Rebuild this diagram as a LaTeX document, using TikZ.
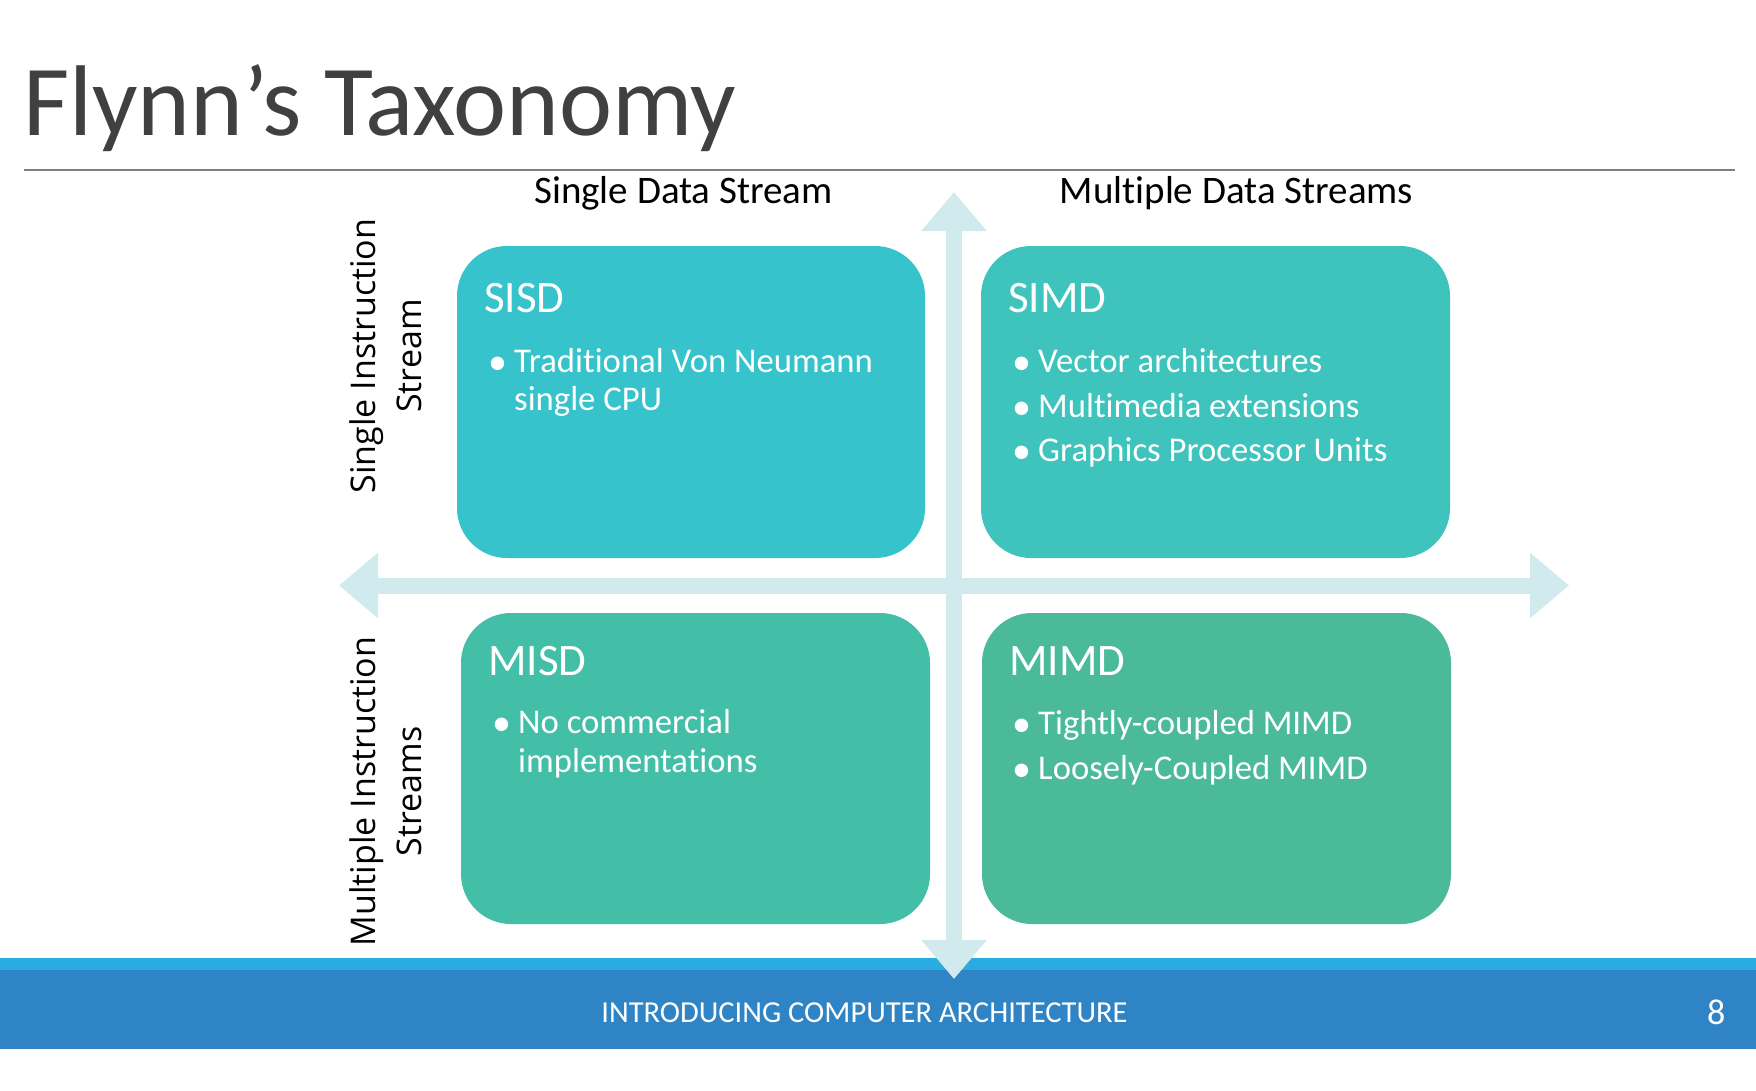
\documentclass[tikz,border=0pt]{standalone}
\usepackage{fontspec}
\setmainfont{Carlito}[Ligatures=NoCommon]
\newfontfamily\opensans{Open Sans}
\usetikzlibrary{arrows.meta}
\definecolor{sisdc}{HTML}{37C3CB}
\definecolor{simdc}{HTML}{3EC4BC}
\definecolor{misdc}{HTML}{43BFA8}
\definecolor{mimdc}{HTML}{4ABA98}
\definecolor{axisc}{HTML}{D1EAED}
\definecolor{footlight}{HTML}{2AACE2}
\definecolor{footdark}{HTML}{2E84C4}
\definecolor{titlec}{HTML}{404040}
\definecolor{rulec}{HTML}{7F7F7F}
\begin{document}
\begin{tikzpicture}[x=1pt,y=-1pt,
  quad/.style={rectangle, rounded corners=50pt, inner sep=0pt, draw=none,
    minimum width=469pt, minimum height=312pt},
  hdr/.style={inner sep=0pt, anchor=base, text=black, font=\fontsize{39}{47}\selectfont},
  qtitle/.style={inner sep=0pt, anchor=base west, text=white, font=\fontsize{45}{54}\selectfont},
  qtext/.style={inner sep=0pt, anchor=base west, text=white, font=\fontsize{34.7}{41}\selectfont},
  qbul/.style={inner sep=0pt, anchor=base west, text=white, font=\fontsize{38}{41}\selectfont},
  side/.style={inner sep=0pt, rotate=90, align=center, text=black, font=\opensans\fontsize{34}{46}\selectfont},
  axis/.style={draw=axisc, line width=16pt, line cap=butt,
    {Triangle[width=63pt,length=39pt]}-{Triangle[width=63pt,length=39pt]}}
]
\useasboundingbox (0,0) rectangle (1756,1090);
\fill[white] (0,0) rectangle (1756,1090);

% title
\node[inner sep=0pt, anchor=base west, text=titlec, font=\fontsize{100.5}{120}\selectfont] (title) at (23,135) {Flynn’s Taxonomy};
\coordinate (rl) at (24,170);
\coordinate (rr) at (1735,170);
\draw[rulec, line width=2pt] (rl) -- (rr);

% footer
\fill[footlight] (0,958) rectangle (1756,970);
\fill[footdark] (0,970) rectangle (1756,1049);
\node[inner sep=0pt, anchor=base, text=white, font=\fontsize{30.5}{36}\selectfont] (foot) at (864.5,1022) {INTRODUCING COMPUTER ARCHITECTURE};
\node[inner sep=0pt, anchor=base west, text=white, font=\fontsize{36}{43}\selectfont] (page) at (1707,1024) {8};

% axes
\coordinate (vt) at (954,192);
\coordinate (vb) at (954,979);
\coordinate (hl) at (339,585.5);
\coordinate (hr) at (1569,585.5);
\draw[axis] (vt) -- (vb);
\draw[axis] (hl) -- (hr);

% headers
\node[hdr] (sds) at (683.5,203) {Single Data Stream};
\node[hdr] (mds) at (1236.5,203) {Multiple Data Streams};
\node[side] (sis) at (386,356) {Single Instruction\\Stream};
\node[side] (mis) at (386,791.5) {Multiple Instruction\\Streams};

% quadrants
\node[quad, fill=sisdc, minimum width=468pt] (sisd) at (691,402) {};
\node[quad, fill=simdc] (simd) at (1215.5,402) {};
\node[quad, fill=misdc, minimum height=311pt] (misd) at (695.5,768.5) {};
\node[quad, fill=mimdc, minimum height=311pt] (mimd) at (1216.5,768.5) {};

% SISD
\node[qtitle] (t1) at (484,312) {SISD};
\node[qbul] (b11) at (488,374) {•};
\node[qtext] (s11) at (514,372) {Traditional Von Neumann};
\node[qtext] (s12) at (514,410) {single CPU};

% SIMD
\node[qtitle] (t2) at (1008,312) {SIMD};
\node[qbul] (b21) at (1012,374) {•};
\node[qtext] (s21) at (1038,372) {Vector architectures};
\node[qbul] (b22) at (1012,419) {•};
\node[qtext] (s22) at (1038,417) {Multimedia extensions};
\node[qbul] (b23) at (1012,463) {•};
\node[qtext] (s23) at (1038,461) {Graphics Processor Units};

% MISD
\node[qtitle] (t3) at (488,675) {MISD};
\node[qbul] (b31) at (492,735) {•};
\node[qtext] (s31) at (518,733) {No commercial};
\node[qtext] (s32) at (518,772) {implementations};

% MIMD
\node[qtitle] (t4) at (1009,675) {MIMD};
\node[qbul] (b41) at (1012,736) {•};
\node[qtext] (s41) at (1038,734) {Tightly-coupled MIMD};
\node[qbul] (b42) at (1012,781) {•};
\node[qtext] (s42) at (1038,779) {Loosely-Coupled MIMD};
\end{tikzpicture}
\end{document}
